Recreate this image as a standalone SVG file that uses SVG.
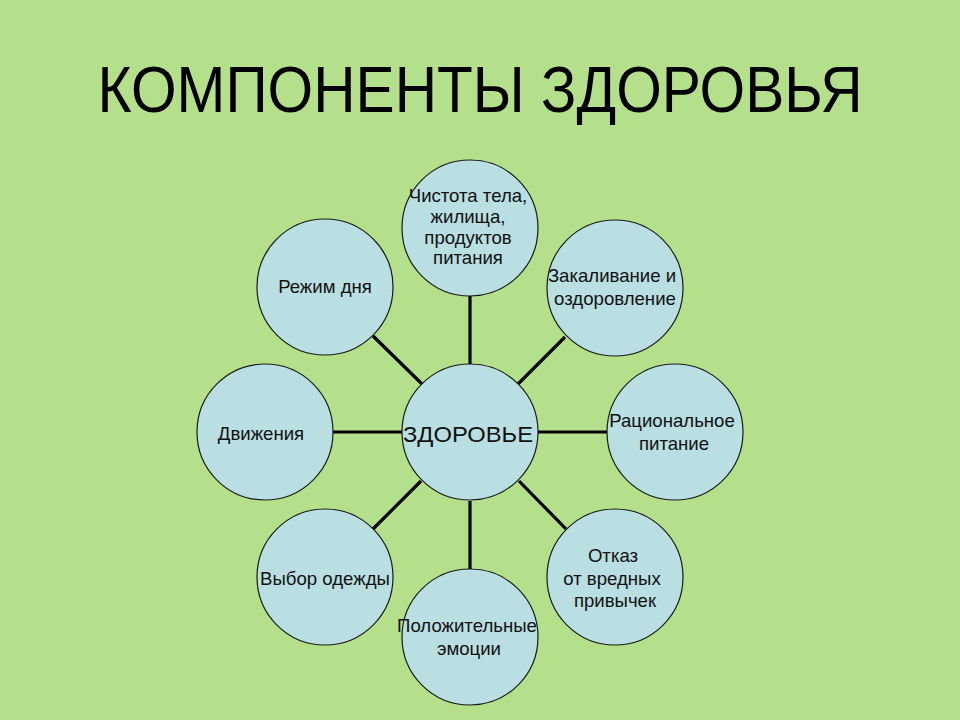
<svg xmlns="http://www.w3.org/2000/svg" width="960" height="720" viewBox="0 0 960 720">
<style>
.node circle{fill:#b9dfe3;stroke:#1a1a1a;stroke-width:1.2}
.lbl{font-family:"Liberation Sans",Arial,sans-serif;font-size:18.6px;fill:#111;text-anchor:middle}
.conn line{stroke:#000;stroke-width:3.2}
</style>
<rect width="960" height="720" fill="#b5e08b"/>
<text x="480" y="112" font-family="Liberation Sans, Arial, sans-serif" font-size="64" fill="#000" text-anchor="middle" textLength="765" lengthAdjust="spacingAndGlyphs">КОМПОНЕНТЫ ЗДОРОВЬЯ</text>
<g id="connectors" class="conn">
<line x1="470" y1="296" x2="470" y2="364"/>
<line x1="422" y1="384" x2="373" y2="336"/>
<line x1="518" y1="384" x2="565" y2="337"/>
<line x1="333" y1="432" x2="402" y2="432"/>
<line x1="538" y1="432" x2="607" y2="432"/>
<line x1="421" y1="481" x2="373" y2="529"/>
<line x1="519" y1="481" x2="566" y2="529"/>
<line x1="470" y1="501" x2="470" y2="570"/>
</g>
<g id="center" class="node"><circle cx="470" cy="432" r="68"/><text class="lbl" x="468" y="442" textLength="130" lengthAdjust="spacingAndGlyphs" style="font-size:22.5px">ЗДОРОВЬЕ</text></g>
<g id="n-top" class="node"><circle cx="470" cy="228" r="68"/>
<text class="lbl" x="468" y="202">Чистота тела,</text>
<text class="lbl" x="468" y="223">жилища,</text>
<text class="lbl" x="468" y="244">продуктов</text>
<text class="lbl" x="468" y="264">питания</text></g>
<g id="n-topright" class="node"><circle cx="615" cy="288" r="68"/>
<text class="lbl" x="612" y="282">Закаливание и</text>
<text class="lbl" x="615" y="305">оздоровление</text></g>
<g id="n-right" class="node"><circle cx="675" cy="432" r="68"/>
<text class="lbl" x="672" y="427">Рациональное</text>
<text class="lbl" x="674" y="450">питание</text></g>
<g id="n-botright" class="node"><circle cx="615" cy="577" r="68"/>
<text class="lbl" x="613" y="562">Отказ</text>
<text class="lbl" x="612" y="585">от вредных</text>
<text class="lbl" x="615" y="607">привычек</text></g>
<g id="n-bottom" class="node"><circle cx="470" cy="637" r="68"/>
<text class="lbl" x="467" y="632">Положительные</text>
<text class="lbl" x="469" y="655">эмоции</text></g>
<g id="n-botleft" class="node"><circle cx="325" cy="577" r="68"/>
<text class="lbl" x="325" y="585">Выбор одежды</text></g>
<g id="n-left" class="node"><circle cx="265" cy="432" r="68"/>
<text class="lbl" x="261" y="440">Движения</text></g>
<g id="n-topleft" class="node"><circle cx="325" cy="287" r="68"/>
<text class="lbl" x="325" y="293">Режим дня</text></g>
</svg>
